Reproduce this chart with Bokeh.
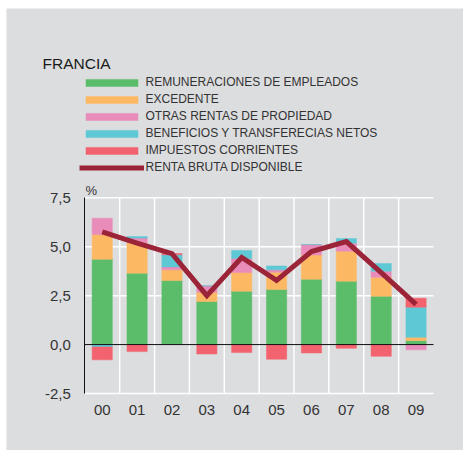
import numpy as np
from bokeh.plotting import figure
from bokeh.layouts import column, row
from bokeh.models import (ColumnDataSource, FixedTicker, Legend, LegendItem, Label,
                          Range1d, LinearAxis, Spacer)
from bokeh.embed import file_html
from bokeh.resources import INLINE

years = ["00", "01", "02", "03", "04", "05", "06", "07", "08", "09"]
remun = [4.36, 3.65, 3.27, 2.20, 2.73, 2.81, 3.34, 3.24, 2.47, 0.20]
excedente = [1.26, 1.55, 0.55, 0.47, 0.95, 0.89, 1.24, 1.53, 0.97, 0.17]
otras = [0.84, 0.24, 0.15, 0.33, 0.72, 0.12, 0.53, 0.41, 0.31, -0.27]
benef = [-0.12, 0.08, 0.62, 0.0, 0.41, 0.20, 0.0, 0.24, 0.39, 1.54]
impuestos = [-0.66, -0.36, 0.06, -0.48, -0.41, -0.75, -0.43, -0.19, -0.60, 0.46]
renta = [5.76, 5.18, 4.65, 2.50, 4.45, 3.28, 4.75, 5.26, 3.68, 2.05]

names = ["REMUNERACIONES DE EMPLEADOS", "EXCEDENTE", "OTRAS RENTAS DE PROPIEDAD",
         "BENEFICIOS Y TRANSFERECIAS NETOS", "IMPUESTOS CORRIENTES"]
line_name = "RENTA BRUTA DISPONIBLE"
title_text = "FRANCIA"
unit_text = "%"
colors = ["#5bbd6a", "#fdb864", "#e98cba", "#5ec8d4", "#f2636f"]
line_color = "#9b2438"
y_ticks = [-2.5, 0.0, 2.5, 5.0, 7.5]
y_labels = ["-2,5", "0,0", "2,5", "5,0", "7,5"]

BG = "#dcdddf"
FONT = "Liberation Sans"
TXT = "#333333"

# ---- layout (pixels on the canvas) ----
W, H = 457, 442
X0_PX, X1_PX = 78.3, 427.0      # plot area left / right
YT_PX, YB_PX = 189.3, 385.0     # plot area top / bottom
n = len(years)
ymin, ymax = min(y_ticks), max(y_ticks)
ux = (X1_PX - X0_PX) / n
uy = (YB_PX - YT_PX) / (ymax - ymin)


def dx(px):
    return (px - X0_PX) / ux


def dy(py):
    return ymax + (YT_PX - py) / uy


p = figure(width=W, height=H, output_backend="svg", toolbar_location=None,
           x_range=Range1d(dx(0), dx(W)), y_range=Range1d(dy(H), dy(0)),
           x_axis_location=None, y_axis_location=None, min_border=0)
p.background_fill_color = BG
p.border_fill_color = BG
p.outline_line_color = None
p.xgrid.visible = False
p.ygrid.visible = False

xs = np.arange(n) + 0.5

# grid lines (white), limited to the plot area
vx = list(range(1, n))
p.segment(x0=vx, y0=[ymin] * len(vx), x1=vx, y1=[ymax] * len(vx),
          line_color="white", line_width=1.5)
hy = [t for t in y_ticks if t != 0.0]
p.segment(x0=[0] * len(hy), y0=hy, x1=[n] * len(hy), y1=hy,
          line_color="white", line_width=1.5)

series = [remun, excedente, otras, benef, impuestos]
pos = np.zeros(n)
neg = np.zeros(n)
renderers = []
for s, c in zip(series, colors):
    v = np.array(s, dtype=float)
    bottom = np.where(v >= 0, pos, neg)
    top = bottom + v
    pos = np.where(v >= 0, top, pos)
    neg = np.where(v < 0, top, neg)
    src = ColumnDataSource(dict(x=xs, bottom=bottom, top=top))
    r = p.vbar(x="x", bottom="bottom", top="top", width=0.58, source=src,
               fill_color=c, line_color=c, line_width=0.5)
    renderers.append(r)

# zero line
p.segment(x0=[0], y0=[0.0], x1=[n], y1=[0.0], line_color="#111111", line_width=1)

lr = p.line(xs, renta, line_color=line_color, line_width=5, line_join="miter")

# axes placed inside the canvas
yax = LinearAxis(fixed_location=0, bounds=(ymin, ymax))
yax.ticker = FixedTicker(ticks=y_ticks)
yax.major_label_overrides = {t: l for t, l in zip(y_ticks, y_labels)}
yax.axis_line_color = "#111111"
yax.major_tick_line_color = None
yax.minor_tick_line_color = None
yax.major_tick_out = 0
yax.major_tick_in = 0
yax.major_label_standoff = 14
yax.major_label_text_font = FONT
yax.major_label_text_font_size = "15px"
yax.major_label_text_color = TXT
p.add_layout(yax, "left")

xax = LinearAxis(fixed_location=ymin)
xax.ticker = FixedTicker(ticks=list(xs))
xax.major_label_overrides = {float(x): y for x, y in zip(xs, years)}
xax.axis_line_color = None
xax.major_tick_line_color = None
xax.minor_tick_line_color = None
xax.major_tick_out = 0
xax.major_tick_in = 0
xax.major_label_standoff = 11
xax.major_label_text_font = FONT
xax.major_label_text_font_size = "15px"
xax.major_label_text_color = TXT
p.add_layout(xax, "below")

items = [LegendItem(label=nm, renderers=[r]) for nm, r in zip(names, renderers)]
items.append(LegendItem(label=line_name, renderers=[lr]))
legend = Legend(items=items, location=(72.5, H - 166), padding=0, margin=0,
                glyph_width=65, glyph_height=9, label_height=14, spacing=3,
                label_standoff=2, label_text_font=FONT, label_text_font_size="12px",
                label_text_color=TXT, border_line_color=None,
                background_fill_alpha=0)
p.add_layout(legend)

p.add_layout(Label(x=dx(36), y=dy(54.5), text=title_text,
                   text_font=FONT, text_font_size="15.5px", text_color="#1a1a1a",
                   text_baseline="alphabetic"))
p.add_layout(Label(x=dx(79), y=dy(182), text=unit_text,
                   text_font=FONT, text_font_size="13px", text_color=TXT,
                   text_baseline="alphabetic"))

layout = column(Spacer(height=8), row(Spacer(width=6), p, spacing=0), spacing=0)
open("out.html", "w").write(file_html(layout, INLINE))
